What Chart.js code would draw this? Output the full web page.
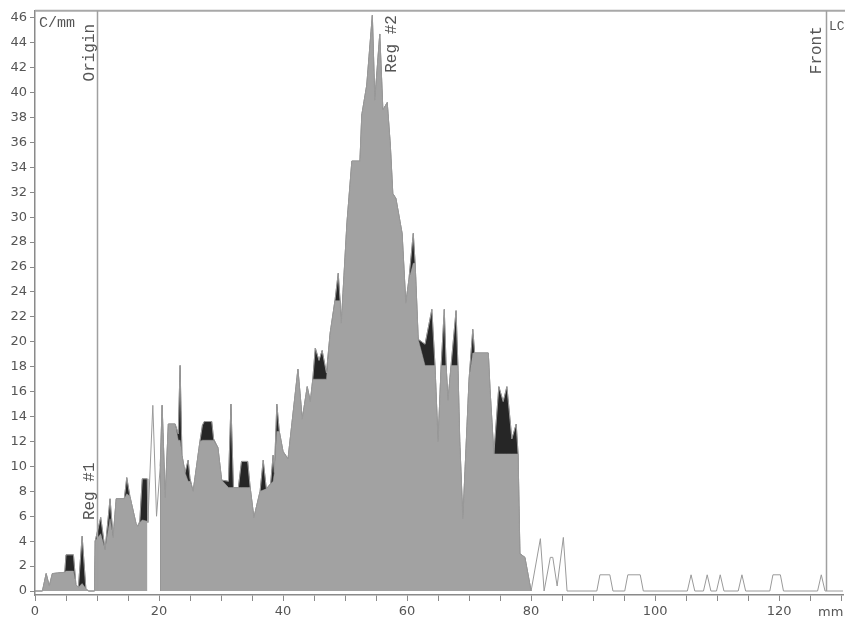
<!DOCTYPE html>
<html>
<head>
<meta charset="utf-8">
<script src="https://cdn.jsdelivr.net/npm/chart.js@4.4.1/dist/chart.umd.min.js"></script>
<style>
    html, body { margin: 0; padding: 0; background: #fff; }
    #wrap { width: 845px; height: 625px; position: relative; }
</style>
</head>
<body>
<div id="wrap"><canvas id="scan"></canvas></div>
<script>
// Posición en la placa (mm)
const scanMm = [
    0.0, 1.2, 1.8, 2.3, 2.8, 4.8, 5.0, 6.2, 6.6, 7.0, 7.6, 8.2, 8.6, 9.6,
    9.7, 10.6, 11.3, 12.1, 12.6, 13.1, 14.4, 14.8, 15.3, 16.3, 16.6, 16.9, 17.3, 18.1,
    18.2, 19.0, 19.6,
    20.2, 20.5, 21.0, 21.5, 22.6, 23.1, 23.4, 23.7, 24.2, 24.7, 25.0, 25.5, 26.6,
    27.0, 27.3, 28.5, 28.8, 29.5, 30.1, 31.2, 31.6, 32.0, 32.8, 33.3, 34.3, 34.7,
    35.3, 36.3, 36.8, 37.3, 38.0, 38.4, 38.6, 39.0, 39.4, 40.0, 40.8, 42.4, 43.1,
    43.9, 44.4, 44.8, 45.2, 45.8, 46.3, 47.0, 47.6, 48.4, 48.9, 49.2, 49.4, 49.7,
    50.3, 51.1, 52.4, 52.7, 53.5, 54.4, 54.8, 55.6, 56.1, 56.8, 57.3, 57.7, 58.2,
    59.2, 59.8, 60.3, 61.0, 61.3, 61.8, 62.9, 64.0, 64.5, 65.0, 65.5, 66.0, 66.3,
    66.6, 67.1, 67.9, 68.2, 68.5, 69.0, 70.0, 70.6, 70.9, 73.1, 73.4, 74.0, 74.8,
    75.5, 76.1, 76.9, 77.6, 77.9, 78.2, 79.0, 80.0,
    81.5, 82.1, 83.1, 83.5, 84.2, 85.2, 85.8, 90.6, 91.1, 92.7, 93.2, 95.1, 95.6,
    97.6, 98.1, 105.2, 105.8, 106.4, 107.8, 108.4, 109.0, 109.9, 110.5, 111.1,
    113.4, 114.0, 114.6, 118.5, 119.0, 120.2, 120.7, 126.2, 126.8, 127.4, 130.3
];

// Cuentas totales del barrido (C/mm)
const traceCounts = [
    0, 0, 1.4, 0.4, 1.4, 1.5, 2.9, 2.9, 0.5, 0.3, 4.4, 0.2, 0, 0,
    4.0, 5.9, 3.3, 7.4, 4.3, 7.4, 7.4, 9.1, 7.6, 5.4, 5.2, 5.6, 9.0, 9.0,
    5.5, 14.9, 6.0,
    10.0, 14.9, 7.5, 13.4, 13.4, 12.6, 18.1, 10.9, 9.5, 10.5, 9.0, 8.0, 12.0,
    13.3, 13.6, 13.6, 12.2, 11.5, 8.9, 8.8, 15.0, 8.3, 8.3, 10.4, 10.4, 8.3,
    5.9, 8.0, 10.5, 8.2, 8.6, 10.9, 9.5, 15.0, 12.8, 11.2, 10.6, 17.8, 13.8,
    16.4, 15.2, 17.0, 19.5, 18.5, 19.3, 17.5, 20.7, 23.4, 25.5, 23.3, 21.5, 24.2,
    29.5, 34.5, 34.5, 38.2, 40.6, 46.2, 39.4, 44.7, 38.6, 39.2, 35.8, 31.9, 31.5,
    28.7, 23.1, 25.0, 28.7, 26.3, 20.2, 19.8, 22.6, 18.1, 12.0, 18.1, 22.6, 18.1,
    15.3, 18.1, 22.5, 18.1, 12.0, 5.8, 17.0, 21.0, 19.1, 19.1, 16.0, 11.0, 16.4,
    15.2, 16.4, 12.2, 13.4, 11.0, 3.0, 2.7, 0,
    4.2, 0, 2.7, 2.7, 0.4, 4.3, 0, 0, 1.3, 1.3, 0, 0, 1.3,
    1.3, 0, 0, 1.3, 0, 0, 1.3, 0, 0, 1.3, 0,
    0, 1.3, 0, 0, 1.3, 1.3, 0, 0, 1.3, 0, 0
];

// Nivel integrado de las regiones (gris); null = fuera de región
const regionCounts = [
    0, 0, 1.4, 0.4, 1.4, 1.5, 1.6, 1.6, 0.5, 0.3, 0.6, 0.2, 0, 0,
    4.0, 4.6, 3.3, 5.8, 4.3, 7.4, 7.4, 7.8, 7.6, 5.4, 5.2, 5.5, 5.7, 5.6,
    null, null, null,
    10.0, 14.9, 7.5, 13.4, 13.4, 12.1, 12.1, 10.9, 9.5, 8.8, 8.8, 8.0, 12.0,
    12.1, 12.1, 12.1, 12.1, 11.5, 8.9, 8.3, 8.3, 8.3, 8.3, 8.3, 8.3, 8.3,
    5.9, 8.0, 8.1, 8.2, 8.6, 8.8, 9.5, 12.8, 12.8, 11.2, 10.6, 17.8, 13.8,
    16.4, 15.2, 17.0, 17.0, 17.0, 17.0, 17.0, 20.7, 23.3, 23.3, 23.3, 21.5, 24.2,
    29.5, 34.5, 34.5, 38.2, 40.6, 46.2, 39.4, 44.7, 38.6, 39.2, 35.8, 31.9, 31.5,
    28.7, 23.1, 25.0, 26.3, 26.3, 20.2, 18.1, 18.1, 18.1, 12.0, 18.1, 18.1, 18.1,
    15.3, 18.1, 18.1, 18.1, 12.0, 5.8, 17.0, 19.1, 19.1, 19.1, 16.0, 11.0, 11.0,
    11.0, 11.0, 11.0, 11.0, 11.0, 3.0, 2.7, 0,
    null, null, null, null, null, null, null, null, null, null, null, null, null,
    null, null, null, null, null, null, null, null, null, null, null,
    null, null, null, null, null, null, null, null, null, null, null
];

// Marcas de los ejes
const yTicks = [0, 2, 4, 6, 8, 10, 12, 14, 16, 18, 20, 22, 24, 26, 28, 30, 32, 34, 36, 38, 40, 42, 44, 46];
const xTicks = [0, 5, 10, 15, 20, 25, 30, 35, 40, 45, 50, 55, 60, 65, 70, 75, 80, 85, 90, 95, 100, 105, 110, 115, 120, 125, 130];
const xLabels = [0, 20, 40, 60, 80, 100, 120];

// Líneas verticales de referencia (mm) y rótulos
const markerLines = [10.0, 127.6];
const markerTexts = [
    { text: 'Origin', mm: 8.9, value: 43.2 },
    { text: 'Reg #1', mm: 8.9, value: 8.0 },
    { text: 'Reg #2', mm: 57.6, value: 43.9 },
    { text: 'Front', mm: 126.0, value: 43.4 }
];

const monoFont = "'Liberation Mono', 'DejaVu Sans Mono', monospace";
const sansFont = "'DejaVu Sans', sans-serif";

const tracePoints = scanMm.map((x, i) => ({ x: x, y: traceCounts[i] }));
const regionPoints = scanMm.map((x, i) => ({ x: x, y: regionCounts[i] }));
const peakPoints = scanMm.map((x, i) => ({ x: x, y: regionCounts[i] === null ? null : traceCounts[i] }));

// Plugin para dibujar el marco, las líneas Origin/Front y los textos
const overlayPlugin = {
    id: 'overlay',
    afterDatasetsDraw(chart) {
        const { ctx, chartArea, scales } = chart;
        const xs = scales.x, ys = scales.y;
        ctx.save();
        ctx.strokeStyle = '#a8a8a8';
        ctx.lineWidth = 2;
        ctx.beginPath();
        ctx.moveTo(chartArea.left, chartArea.top);
        ctx.lineTo(chart.width, chartArea.top);
        ctx.stroke();

        ctx.strokeStyle = '#a0a0a0';
        ctx.lineWidth = 1.5;
        markerLines.forEach(mm => {
            const px = Math.round(xs.getPixelForValue(mm)) + 0.5;
            ctx.beginPath();
            ctx.moveTo(px, chartArea.top);
            ctx.lineTo(px, ys.getPixelForValue(0));
            ctx.stroke();
        });

        ctx.fillStyle = '#555';
        ctx.font = '16px ' + monoFont;
        ctx.textAlign = 'center';
        ctx.textBaseline = 'middle';
        markerTexts.forEach(t => {
            ctx.save();
            ctx.translate(xs.getPixelForValue(t.mm), ys.getPixelForValue(t.value));
            ctx.rotate(-Math.PI / 2);
            ctx.fillText(t.text, 0, 0);
            ctx.restore();
        });

        ctx.textAlign = 'left';
        ctx.font = '15px ' + monoFont;
        ctx.fillText('C/mm', chartArea.left + 4, chartArea.top + 12);
        ctx.font = '13px ' + monoFont;
        ctx.fillText('LC', chartArea.right - 14, chartArea.top + 16);

        ctx.font = '13px ' + sansFont;
        ctx.fillStyle = '#555';
        ctx.fillText('mm', chartArea.right - 25, chartArea.bottom + 18);
        ctx.restore();
    }
};

const ctx = document.getElementById('scan').getContext('2d');
new Chart(ctx, {
    type: 'line',
    data: {
        datasets: [
            {
                label: 'Trace',
                data: tracePoints,
                borderColor: '#9a9a9a',
                borderWidth: 1,
                fill: false,
                pointRadius: 0,
                tension: 0,
                order: 0
            },
            {
                label: 'Region',
                data: regionPoints,
                borderColor: '#a2a2a2',
                borderWidth: 0.5,
                backgroundColor: '#a2a2a2',
                fill: 'origin',
                pointRadius: 0,
                tension: 0,
                spanGaps: false,
                order: 1
            },
            {
                label: 'Peaks',
                data: peakPoints,
                borderColor: '#262626',
                borderWidth: 0.5,
                backgroundColor: '#262626',
                fill: 'origin',
                pointRadius: 0,
                tension: 0,
                spanGaps: false,
                order: 2
            }
        ]
    },
    options: {
        responsive: true,
        maintainAspectRatio: false,
        animation: false,
        layout: { padding: { top: 5, right: 2, left: 0, bottom: 0 } },
        plugins: {
            legend: { display: false },
            tooltip: { enabled: false }
        },
        scales: {
            x: {
                type: 'linear',
                min: 0,
                max: 130.3,
                afterFit: s => { s.height = 30; },
                afterBuildTicks: s => { s.ticks = xTicks.map(v => ({ value: v })); },
                grid: { drawOnChartArea: false, drawTicks: true, tickLength: 6, color: '#8a8a8a' },
                border: { display: true, color: '#8a8a8a', width: 1.5 },
                ticks: {
                    autoSkip: false,
                    maxRotation: 0,
                    padding: 3,
                    color: '#555',
                    font: { family: sansFont, size: 13 },
                    callback: v => xLabels.includes(v) ? String(v) : ''
                }
            },
            y: {
                min: -0.32,
                max: 46.56,
                afterFit: s => { s.width = 35; },
                afterBuildTicks: s => { s.ticks = yTicks.map(v => ({ value: v })); },
                grid: { drawOnChartArea: false, drawTicks: true, tickLength: 5, color: '#8a8a8a' },
                border: { display: true, color: '#8a8a8a', width: 1.5 },
                ticks: {
                    autoSkip: false,
                    padding: 3,
                    color: '#555',
                    font: { family: sansFont, size: 13 }
                }
            }
        }
    },
    plugins: [overlayPlugin]
});
</script>
</body>
</html>
